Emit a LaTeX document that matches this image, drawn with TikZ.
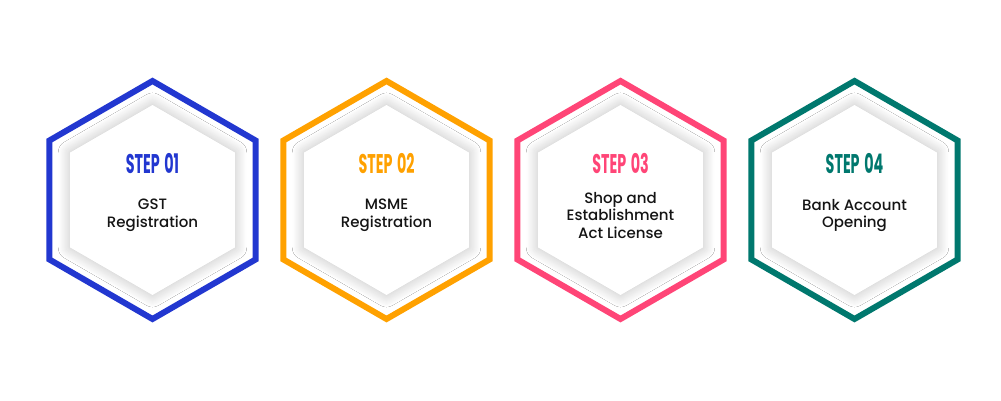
\documentclass[tikz,border=0pt]{standalone}
\usepackage{fontspec}
\setmainfont{Poppins}
\newfontfamily\infofont{Poppins Medium}
\usetikzlibrary{positioning,shapes.geometric,shadows.blur}
\definecolor{stepblue}{HTML}{2237D0}
\definecolor{steporange}{HTML}{FFA100}
\definecolor{steppink}{HTML}{FF4577}
\definecolor{stepteal}{HTML}{00786E}
\newcommand{\steplabel}[2]{\scalebox{0.53}[1]{\fontsize{27}{27}\selectfont\bfseries #1\hspace{0.32em}#2}}

\begin{document}
\begin{tikzpicture}[x=1pt,y=1pt,node distance=234pt,hexring/.style={regular polygon, regular polygon sides=6, shape border rotate=30, draw=#1, line width=6pt, fill=white, minimum size=238pt, inner sep=0pt},hexcore/.style={regular polygon, regular polygon sides=6, shape border rotate=30, fill=white, minimum size=190pt, inner sep=0pt, blur shadow={shadow xshift=0pt, shadow yshift=0pt, shadow blur radius=12pt, shadow blur steps=12, shadow opacity=26}},steptext/.style={text=#1, inner sep=0pt},infotext/.style={align=center, inner sep=0pt, text=black!92, font=\infofont\fontsize{15}{17.5}\selectfont},]
            \useasboundingbox (0,0) rectangle (1001,401);
            \node[hexring=stepblue] (hex1) at (152.5,201) {};
            \node[hexring=steporange, right of=hex1] (hex2) {};
            \node[hexring=steppink, right of=hex2] (hex3) {};
            \node[hexring=stepteal, right of=hex3] (hex4) {};
            \foreach \n in {1,...,4}
                \node[hexcore] (core\n) at (hex\n) {};
            \node[steptext=stepblue] (step1) at ([yshift=36pt]hex1.center) {\steplabel{STEP}{01}};
            \node[steptext=steporange] (step2) at ([yshift=36pt]hex2.center) {\steplabel{STEP}{02}};
            \node[steptext=steppink] (step3) at ([yshift=36pt]hex3.center) {\steplabel{STEP}{03}};
            \node[steptext=stepteal] (step4) at ([yshift=36pt]hex4.center) {\steplabel{STEP}{04}};
            \node[infotext] (info1) at ([yshift=-15.5pt]hex1.center) {GST\\Registration};
            \node[infotext] (info2) at ([yshift=-15.5pt]hex2.center) {MSME\\Registration};
            \node[infotext] (info3) at ([yshift=-15.5pt]hex3.center) {Shop and\\Establishment\\Act License};
            \node[infotext] (info4) at ([yshift=-15.5pt]hex4.center) {Bank Account\\Opening};
        \end{tikzpicture}
\end{document}
